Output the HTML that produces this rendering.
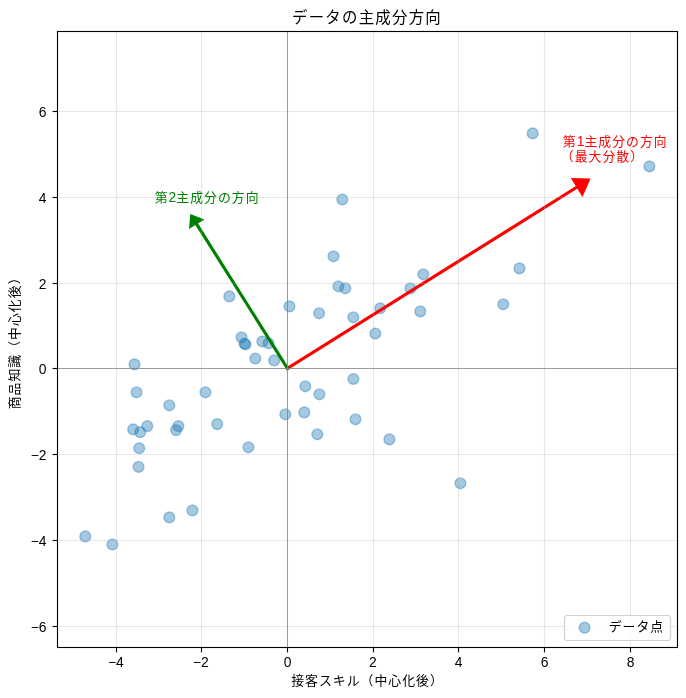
<!DOCTYPE html>
<html lang="ja"><head><meta charset="utf-8"><title>データの主成分方向</title>
<style>html,body{margin:0;padding:0;background:#fff}body{width:686px;height:698px;overflow:hidden}svg{display:block;will-change:transform;transform:translateZ(0)}text{font-family:'Liberation Sans','Noto Sans CJK JP',sans-serif;}</style></head><body>
<svg width="686" height="698" viewBox="0 0 686 698">
<rect x="0" y="0" width="686" height="698" fill="#fff"/>
<g fill="#1f77b4" fill-opacity="0.4" stroke="#1f77b4" stroke-opacity="0.4" stroke-width="1.39">
<circle cx="134.5" cy="364.4" r="5.38"/>
<circle cx="136.5" cy="392.3" r="5.38"/>
<circle cx="205.4" cy="392.3" r="5.38"/>
<circle cx="169.3" cy="405.3" r="5.38"/>
<circle cx="133.2" cy="429.4" r="5.38"/>
<circle cx="147.3" cy="426.1" r="5.38"/>
<circle cx="140.2" cy="432.1" r="5.38"/>
<circle cx="178.4" cy="426.1" r="5.38"/>
<circle cx="176.1" cy="430.1" r="5.38"/>
<circle cx="217.2" cy="424.1" r="5.38"/>
<circle cx="139.2" cy="448.2" r="5.38"/>
<circle cx="138.5" cy="466.9" r="5.38"/>
<circle cx="85.3" cy="536.4" r="5.38"/>
<circle cx="112.4" cy="544.5" r="5.38"/>
<circle cx="169.3" cy="517.4" r="5.38"/>
<circle cx="192.4" cy="510.4" r="5.38"/>
<circle cx="342.3" cy="199.5" r="5.38"/>
<circle cx="333.5" cy="256.3" r="5.38"/>
<circle cx="338.4" cy="286.3" r="5.38"/>
<circle cx="345.3" cy="288.3" r="5.38"/>
<circle cx="229.3" cy="296.4" r="5.38"/>
<circle cx="289.5" cy="306.4" r="5.38"/>
<circle cx="319.1" cy="313.3" r="5.38"/>
<circle cx="241.5" cy="337.3" r="5.38"/>
<circle cx="244.5" cy="343.5" r="5.38"/>
<circle cx="245.5" cy="344.5" r="5.38"/>
<circle cx="262.3" cy="341.5" r="5.38"/>
<circle cx="268.5" cy="343.3" r="5.38"/>
<circle cx="255.3" cy="358.5" r="5.38"/>
<circle cx="274.2" cy="360.4" r="5.38"/>
<circle cx="353.3" cy="317.3" r="5.38"/>
<circle cx="380.2" cy="308.2" r="5.38"/>
<circle cx="375.3" cy="333.5" r="5.38"/>
<circle cx="410.4" cy="288.4" r="5.38"/>
<circle cx="423.3" cy="274.3" r="5.38"/>
<circle cx="420.3" cy="311.4" r="5.38"/>
<circle cx="353.4" cy="379.0" r="5.38"/>
<circle cx="305.3" cy="386.3" r="5.38"/>
<circle cx="319.4" cy="394.3" r="5.38"/>
<circle cx="285.3" cy="414.3" r="5.38"/>
<circle cx="304.3" cy="412.4" r="5.38"/>
<circle cx="355.5" cy="419.3" r="5.38"/>
<circle cx="317.3" cy="434.3" r="5.38"/>
<circle cx="248.4" cy="447.3" r="5.38"/>
<circle cx="389.4" cy="439.4" r="5.38"/>
<circle cx="460.4" cy="483.3" r="5.38"/>
<circle cx="519.4" cy="268.4" r="5.38"/>
<circle cx="503.3" cy="304.3" r="5.38"/>
<circle cx="532.7" cy="133.4" r="5.38"/>
<circle cx="649.4" cy="166.4" r="5.38"/>
</g>
<g stroke-linecap="square">
<line x1="287.50" y1="368.40" x2="576.6" y2="187.3" stroke="#ff0000" stroke-width="3.15"/>
<polygon points="570.8,178.0 590.6,178.5 582.45,196.9" fill="#ff0000"/>
<line x1="287.50" y1="368.40" x2="196.7" y2="224.25" stroke="#008000" stroke-width="3.15"/>
<polygon points="190.3,213.9 204.45,219.5 189.0,229.0" fill="#008000"/>
</g>
<g stroke="#b0b0b0" stroke-opacity="0.3" stroke-width="1.11" fill="none">
<line x1="116.5" y1="31.5" x2="116.5" y2="647.5"/>
<line x1="201.5" y1="31.5" x2="201.5" y2="647.5"/>
<line x1="287.5" y1="31.5" x2="287.5" y2="647.5"/>
<line x1="373.5" y1="31.5" x2="373.5" y2="647.5"/>
<line x1="458.5" y1="31.5" x2="458.5" y2="647.5"/>
<line x1="544.5" y1="31.5" x2="544.5" y2="647.5"/>
<line x1="630.5" y1="31.5" x2="630.5" y2="647.5"/>
<line x1="57.5" y1="111.5" x2="677.5" y2="111.5"/>
<line x1="57.5" y1="197.5" x2="677.5" y2="197.5"/>
<line x1="57.5" y1="283.5" x2="677.5" y2="283.5"/>
<line x1="57.5" y1="368.5" x2="677.5" y2="368.5"/>
<line x1="57.5" y1="454.5" x2="677.5" y2="454.5"/>
<line x1="57.5" y1="540.5" x2="677.5" y2="540.5"/>
<line x1="57.5" y1="626.5" x2="677.5" y2="626.5"/>
</g>
<g stroke="#808080" stroke-opacity="0.75" stroke-width="1" fill="none">
<line x1="57.5" y1="368.5" x2="677.5" y2="368.5"/>
<line x1="287.5" y1="31.5" x2="287.5" y2="647.5"/>
</g>
<rect x="57.5" y="31.5" width="620.0" height="616.0" fill="none" stroke="#000" stroke-width="1.11"/>
<g stroke="#000" stroke-width="1.11">
<line x1="116.5" y1="647.5" x2="116.5" y2="652.4"/>
<line x1="201.5" y1="647.5" x2="201.5" y2="652.4"/>
<line x1="287.5" y1="647.5" x2="287.5" y2="652.4"/>
<line x1="373.5" y1="647.5" x2="373.5" y2="652.4"/>
<line x1="458.5" y1="647.5" x2="458.5" y2="652.4"/>
<line x1="544.5" y1="647.5" x2="544.5" y2="652.4"/>
<line x1="630.5" y1="647.5" x2="630.5" y2="652.4"/>
<line x1="52.6" y1="111.5" x2="57.5" y2="111.5"/>
<line x1="52.6" y1="197.5" x2="57.5" y2="197.5"/>
<line x1="52.6" y1="283.5" x2="57.5" y2="283.5"/>
<line x1="52.6" y1="368.5" x2="57.5" y2="368.5"/>
<line x1="52.6" y1="454.5" x2="57.5" y2="454.5"/>
<line x1="52.6" y1="540.5" x2="57.5" y2="540.5"/>
<line x1="52.6" y1="626.5" x2="57.5" y2="626.5"/>
</g>
<g font-size="13.89" fill="#000">
<text x="115.9" y="666.8" text-anchor="middle">−4</text>
<text x="200.9" y="666.8" text-anchor="middle">−2</text>
<text x="287.5" y="666.8" text-anchor="middle">0</text>
<text x="372.9" y="666.8" text-anchor="middle">2</text>
<text x="458.5" y="666.8" text-anchor="middle">4</text>
<text x="544.5" y="666.8" text-anchor="middle">6</text>
<text x="630.5" y="666.8" text-anchor="middle">8</text>
<text x="46.5" y="116.9" text-anchor="end">6</text>
<text x="46.5" y="202.9" text-anchor="end">4</text>
<text x="46.5" y="288.9" text-anchor="end">2</text>
<text x="46.5" y="373.9" text-anchor="end">0</text>
<text x="46.5" y="459.9" text-anchor="end">−2</text>
<text x="46.5" y="545.9" text-anchor="end">−4</text>
<text x="46.5" y="631.9" text-anchor="end">−6</text>
</g>
<text x="367.03" y="22.92" font-size="15.42" letter-spacing="1.25" text-anchor="middle" fill="#000">データの主成分方向</text>
<text x="367.52" y="684.80" font-size="12.85" letter-spacing="1.04" text-anchor="middle" fill="#000">接客スキル（中心化後）</text>
<text transform="translate(19.2,339.9) rotate(-90)" font-size="12.85" letter-spacing="1.04" text-anchor="middle" fill="#000">商品知識（中心化後）</text>
<text x="154.72" y="202.00" font-size="12.85" letter-spacing="1.04" fill="#008000">第<tspan font-size="13.89" letter-spacing="0">2</tspan>主成分の方向</text>
<text x="562.82" y="146.10" font-size="12.85" letter-spacing="1.04" fill="#ff0000">第<tspan font-size="13.89" letter-spacing="0">1</tspan>主成分の方向</text>
<text x="560.82" y="161.00" font-size="12.85" letter-spacing="1.04" fill="#ff0000">（最大分散）</text>
<rect x="564.5" y="615.5" width="106" height="25" rx="2.8" ry="2.8" fill="#fff" fill-opacity="0.8" stroke="#ccc" stroke-opacity="0.9" stroke-width="1.2"/>
<circle cx="584.6" cy="627.6" r="5.38" fill="#1f77b4" fill-opacity="0.4" stroke="#1f77b4" stroke-opacity="0.4" stroke-width="1.39"/>
<text x="608.72" y="631.20" font-size="12.85" letter-spacing="1.04" fill="#000">データ点</text>
</svg></body></html>
